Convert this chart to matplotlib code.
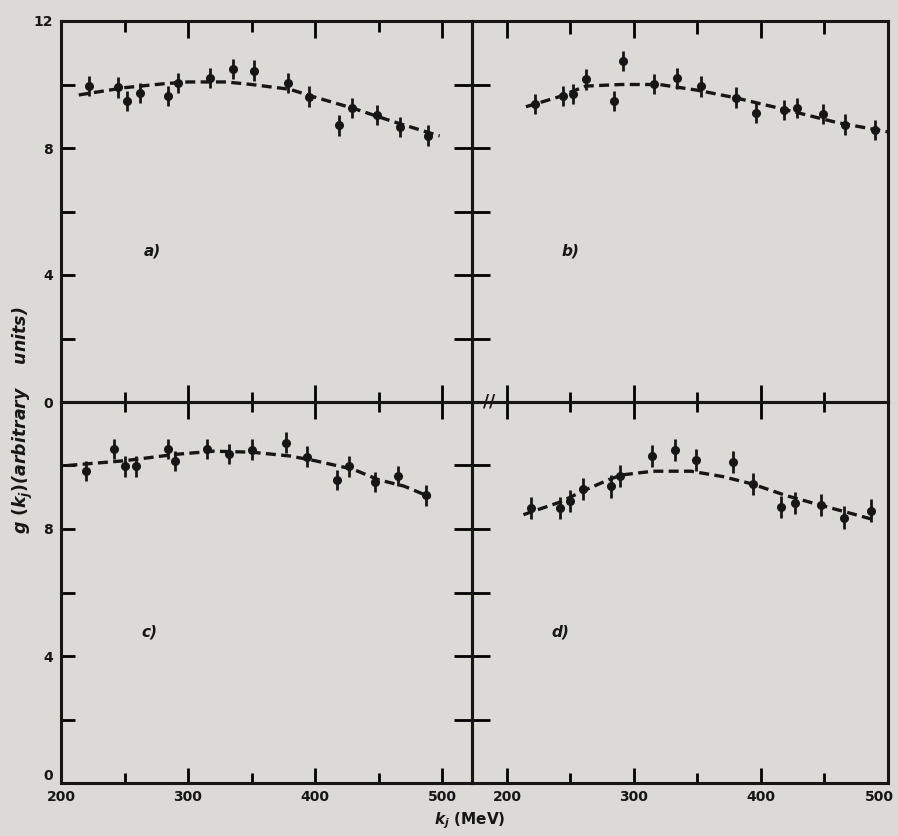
import numpy as np
import matplotlib
matplotlib.use("Agg")
import matplotlib.pyplot as plt
import matplotlib.transforms as mtransforms

# bold italic math so the axis titles look hand lettered
plt.rcParams['mathtext.fontset'] = 'custom'
plt.rcParams['mathtext.it'] = 'DejaVu Sans:italic:bold'
plt.rcParams['mathtext.rm'] = 'DejaVu Sans:bold'
plt.rcParams['mathtext.bf'] = 'DejaVu Sans:italic:bold'

# ---- data (k_j in MeV, g in arbitrary units) ----
k_a = [222, 245, 252, 262, 284, 292, 317, 335, 352, 379, 395, 419, 429, 449, 467, 489]
g_a = [9.95, 9.91, 9.48, 9.74, 9.64, 10.04, 10.21, 10.49, 10.44, 10.04, 9.62, 8.71, 9.27, 9.03, 8.66, 8.39]
e_a = [0.32] * 16

k_b = [222, 244, 252, 262, 284, 291, 316, 334, 353, 380, 396, 418, 428, 449, 466, 490]
g_b = [9.38, 9.63, 9.70, 10.16, 9.47, 10.74, 10.01, 10.19, 9.94, 9.59, 9.10, 9.20, 9.25, 9.07, 8.74, 8.57]
e_b = [0.32] * 16

k_c = [220, 242, 250, 259, 284, 290, 315, 332, 350, 377, 394, 417, 427, 447, 465, 487]
g_c = [9.82, 10.51, 9.97, 9.97, 10.51, 10.15, 10.51, 10.37, 10.50, 10.72, 10.28, 9.55, 9.97, 9.47, 9.66, 9.06]
e_c = [0.32] * 16

k_d = [219, 242, 250, 260, 282, 289, 314, 332, 349, 378, 394, 416, 427, 447, 465, 487]
g_d = [8.65, 8.65, 8.89, 9.27, 9.34, 9.67, 10.31, 10.50, 10.18, 10.12, 9.42, 8.70, 8.81, 8.76, 8.36, 8.58]
e_d = [0.35] * 16

# dashed fit curves
fit_k_a = [214, 250, 280, 300, 330, 350, 380, 400, 430, 460, 498]
fit_g_a = [9.67, 9.90, 10.02, 10.08, 10.08, 10.00, 9.85, 9.60, 9.25, 8.85, 8.38]

fit_k_b = [215, 240, 262, 290, 320, 350, 380, 420, 460, 501]
fit_g_b = [9.30, 9.60, 9.95, 10.00, 10.00, 9.82, 9.58, 9.20, 8.80, 8.50]

fit_k_c = [205, 250, 290, 320, 350, 380, 400, 430, 450, 470, 491]
fit_g_c = [10.00, 10.15, 10.35, 10.45, 10.42, 10.30, 10.15, 9.88, 9.55, 9.35, 9.00]

fit_k_d = [213, 220, 242, 260, 280, 290, 315, 345, 370, 393, 420, 446, 470, 490]
fit_g_d = [8.45, 8.55, 8.85, 9.20, 9.55, 9.70, 9.82, 9.82, 9.65, 9.42, 9.05, 8.76, 8.50, 8.28]

panel_labels = ['a)', 'b)', 'c)', 'd)']

INK = '#161616'
BG = '#dcdad6'

fig = plt.figure(figsize=(8.98, 8.36), dpi=100, facecolor=BG)

W, H = 898.0, 836.0
def px_axes(x0, y0, x1, y1):
    # pixel box (top-left origin) -> figure fraction axes
    return fig.add_axes([x0 / W, 1 - y1 / H, (x1 - x0) / W, (y1 - y0) / H])

ax_a = px_axes(61, 21, 472, 402)
ax_b = px_axes(472, 21, 888, 402)
ax_c = px_axes(61, 402, 472, 783)
ax_d = px_axes(472, 402, 888, 783)

left_xlim = (200, 523.5)
right_xlim = (172.5, 500)

def draw_panel(ax, k, g, e, fk, fg, label, label_xy):
    ax.set_facecolor('none')
    ax.plot(fk, fg, color=INK, lw=2.4, ls=(0, (3, 1.6)), zorder=2)
    ax.errorbar(k, g, yerr=e, fmt='o', color=INK, ms=5.5, elinewidth=2.0,
                capsize=0, zorder=3)
    ax.text(label_xy[0], label_xy[1], label, fontsize=11, style='italic',
            fontweight='bold', color=INK)
    for s in ax.spines.values():
        s.set_linewidth(2.2)
        s.set_color(INK)
    ax.set_ylim(0, 12)

draw_panel(ax_a, k_a, g_a, e_a, fit_k_a, fit_g_a, panel_labels[0], (265, 4.6))
draw_panel(ax_b, k_b, g_b, e_b, fit_k_b, fit_g_b, panel_labels[1], (243, 4.6))
draw_panel(ax_c, k_c, g_c, e_c, fit_k_c, fit_g_c, panel_labels[2], (263, 4.6))
draw_panel(ax_d, k_d, g_d, e_d, fit_k_d, fit_g_d, panel_labels[3], (235, 4.6))

ax_a.set_xlim(*left_xlim)
ax_c.set_xlim(*left_xlim)
ax_b.set_xlim(*right_xlim)
ax_d.set_xlim(*right_xlim)

tick_font = dict(fontsize=10, fontweight='bold', color=INK)

# --- top left ---
ax_a.xaxis.set_ticks_position('top')
ax_a.set_xticks([300, 400, 500])
ax_a.set_xticks([250, 350, 450], minor=True)
ax_a.tick_params(axis='x', which='major', direction='in', length=12, width=2, labeltop=False)
ax_a.tick_params(axis='x', which='minor', direction='in', length=8, width=2)
ax_a.set_yticks([0, 4, 8, 12])
ax_a.set_yticks([2, 6, 10], minor=True)
ax_a.tick_params(axis='y', which='both', direction='in', length=10, width=2, right=False, pad=6)
ax_a.set_yticklabels(['0', '4', '8', '12'], **tick_font)

# --- top right ---
ax_b.xaxis.set_ticks_position('top')
ax_b.set_xticks([200, 300, 400])
ax_b.set_xticks([250, 350, 450], minor=True)
ax_b.tick_params(axis='x', which='major', direction='in', length=12, width=2, labeltop=False)
ax_b.tick_params(axis='x', which='minor', direction='in', length=9, width=2)
ax_b.set_yticks([2, 4, 6, 8, 10])
ax_b.tick_params(axis='y', direction='inout', length=26, width=2, labelleft=False, right=False)

# --- bottom left ---
ax_c.set_xticks([200, 300, 400, 500])
ax_c.set_xticks([250, 350, 450], minor=True)
ax_c.tick_params(axis='x', which='major', direction='in', length=11, width=2, top=False, pad=5)
ax_c.tick_params(axis='x', which='minor', direction='in', length=7, width=2, top=False)
ax_c.set_xticklabels(['200', '300', '400', '500'], **tick_font)
ax_c.set_yticks([0, 4, 8])
ax_c.set_yticks([2, 6, 10], minor=True)
ax_c.tick_params(axis='y', which='both', direction='in', length=10, width=2, right=False, pad=6)
ax_c.set_yticklabels(['0', '4', '8'], **tick_font)
# the bottom "0" sits just above the "200" below it
ax_c.get_yticklabels()[0].set_verticalalignment('bottom')

# --- bottom right ---
ax_d.set_xticks([200, 300, 400, 500])
ax_d.set_xticks([250, 350, 450], minor=True)
ax_d.tick_params(axis='x', which='major', direction='in', length=11, width=2, top=False, pad=5)
ax_d.tick_params(axis='x', which='minor', direction='in', length=7, width=2, top=False)
ax_d.set_xticklabels(['200', '300', '400', '500'], **tick_font)
ax_d.set_yticks([2, 4, 6, 8, 10])
ax_d.tick_params(axis='y', direction='inout', length=26, width=2, labelleft=False, right=False)
# keep the last "500" inside the picture
last = ax_d.get_xticklabels()[-1]
last.set_transform(last.get_transform() +
                   mtransforms.ScaledTranslation(-9 / 100, 0, fig.dpi_scale_trans))

# ticks crossing the middle line (top of bottom panels)
for ax, major, minor in [(ax_c, [300, 400, 500], [250, 350, 450]),
                         (ax_d, [200, 300, 400], [250, 350, 450])]:
    top = ax.secondary_xaxis('top')
    top.set_xticks(major)
    top.set_xticks(minor, minor=True)
    top.tick_params(axis='x', which='major', direction='inout', length=24, width=2, labeltop=False)
    top.tick_params(axis='x', which='minor', direction='inout', length=14, width=2)
    top.spines['top'].set_visible(False)

# axis break mark on the middle line
ax_d.text(186, 12, '//', ha='center', va='center', fontsize=12, fontweight='bold',
          color=INK, clip_on=False)

# axis titles
fig.text(0.026, 0.497, r'$g\ (k_j)$(arbitrary    units)', rotation=90, ha='center',
         va='center', fontsize=12.5, style='italic', fontweight='bold', color=INK)
fig.text(0.523, 0.018, r'$k_j$ (MeV)', ha='center', va='center',
         fontsize=11, fontweight='bold', color=INK)

plt.savefig('out.png', dpi=100, facecolor=BG)
